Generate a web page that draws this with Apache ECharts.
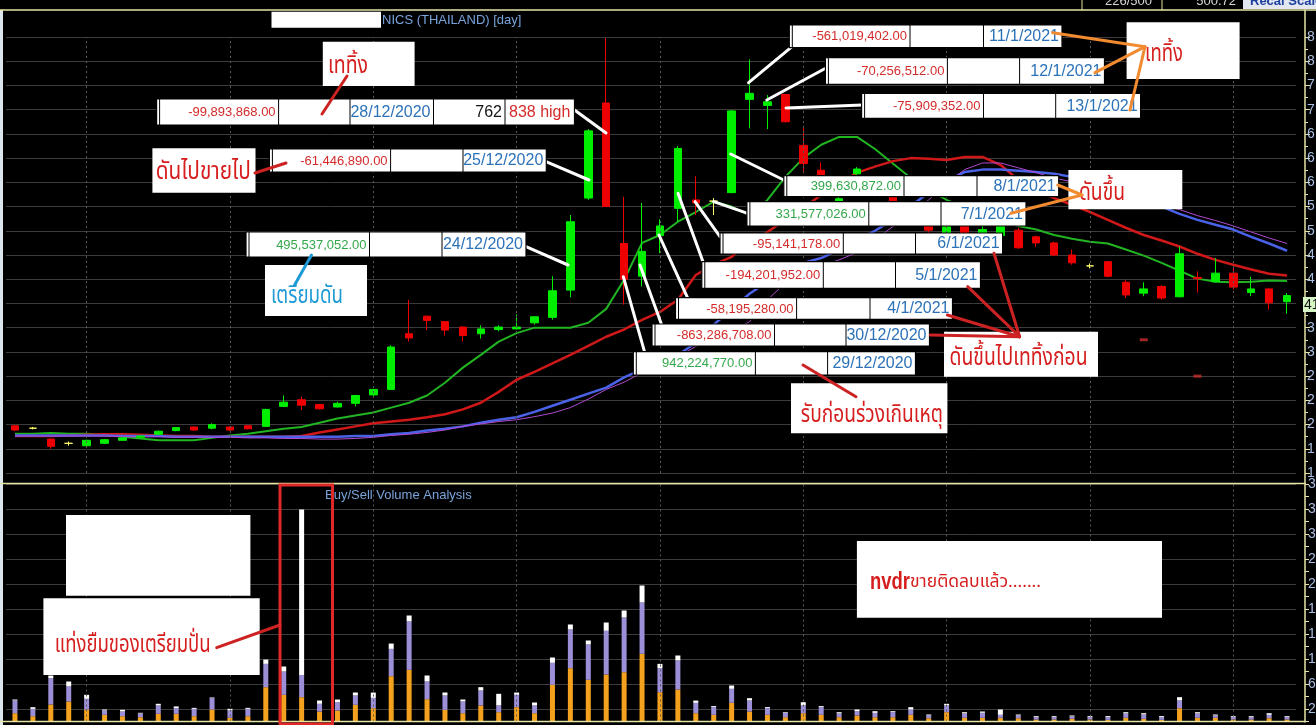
<!DOCTYPE html>
<html><head><meta charset="utf-8">
<script src="https://cdn.jsdelivr.net/npm/echarts@6/dist/echarts.min.js"></script>
<style>html,body{margin:0;padding:0;background:#000;overflow:hidden}#c{width:1316px;height:725px}</style>
</head><body><div id="c"></div><script>
// ---------------- data ----------------
const dates = ['9/11/2020','10/11/2020','11/11/2020','12/11/2020','13/11/2020','16/11/2020','17/11/2020','18/11/2020','19/11/2020','20/11/2020','23/11/2020','24/11/2020','25/11/2020','26/11/2020','27/11/2020','30/11/2020','1/12/2020','2/12/2020','3/12/2020','4/12/2020','8/12/2020','9/12/2020','11/12/2020','14/12/2020','15/12/2020','16/12/2020','17/12/2020','18/12/2020','21/12/2020','22/12/2020','23/12/2020','24/12/2020','25/12/2020','28/12/2020','29/12/2020','30/12/2020','4/1/2021','5/1/2021','6/1/2021','7/1/2021','8/1/2021','11/1/2021','12/1/2021','13/1/2021','14/1/2021','15/1/2021','18/1/2021','19/1/2021','20/1/2021','21/1/2021','22/1/2021','25/1/2021','26/1/2021','27/1/2021','28/1/2021','29/1/2021','1/2/2021','2/2/2021','3/2/2021','4/2/2021','5/2/2021','8/2/2021','9/2/2021','10/2/2021','11/2/2021','12/2/2021','15/2/2021','16/2/2021','17/2/2021','18/2/2021','19/2/2021','22/2/2021'];
const openP  = [1.98,1.94,1.76,1.69,1.65,1.69,1.74,1.79,1.84,1.90,1.96,1.94,1.96,1.98,1.97,2.30,2.41,2.33,2.29,2.35,2.49,2.58,3.50,3.79,3.70,3.61,3.50,3.57,3.58,3.68,3.77,4.22,5.74,7.31,4.99,4.45,5.12,5.57,5.71,5.69,5.83,7.37,7.27,7.45,6.61,6.20,5.55,6.14,5.95,5.77,5.35,5.40,5.10,5.30,5.15,5.12,5.21,5.10,5.00,4.80,4.62,4.69,4.35,4.17,4.28,4.11,4.43,4.36,4.50,4.18,4.24,4.03];
const closeP = [1.91,1.94,1.64,1.69,1.74,1.75,1.78,1.81,1.89,1.95,1.91,2.00,1.91,1.93,2.25,2.37,2.32,2.26,2.35,2.48,2.58,3.28,3.43,3.72,3.56,3.47,3.58,3.61,3.61,3.78,4.21,5.35,6.85,5.60,4.40,4.86,5.28,6.56,5.66,5.69,7.18,7.47,7.33,7.00,6.31,6.10,5.73,6.22,5.80,5.60,5.45,5.21,5.27,5.12,5.22,5.27,4.92,5.00,4.80,4.67,4.62,4.45,4.14,4.24,4.09,4.82,4.41,4.50,4.27,4.24,4.01,4.13];
const highP  = [1.99,1.96,1.77,1.72,1.75,1.76,1.79,1.82,1.90,1.96,1.97,2.02,1.97,1.99,2.26,2.48,2.46,2.34,2.38,2.49,2.59,3.31,4.06,3.80,3.71,3.62,3.64,3.64,3.82,3.79,4.45,5.46,6.88,8.38,5.76,5.66,5.39,6.60,6.10,5.74,7.19,8.03,7.44,7.46,6.92,6.33,5.80,6.25,6.05,5.80,5.50,5.45,5.35,5.35,5.30,5.30,5.25,5.12,5.02,4.89,4.66,4.70,4.39,4.35,4.30,4.94,4.53,4.75,4.61,4.44,4.25,4.17];
const lowP   = [1.89,1.92,1.60,1.65,1.64,1.68,1.73,1.78,1.83,1.89,1.90,1.92,1.90,1.92,1.96,2.29,2.24,2.25,2.28,2.30,2.47,2.57,3.37,3.56,3.47,3.37,3.42,3.54,3.57,3.65,3.73,4.10,5.71,5.60,3.98,4.28,4.83,5.35,5.46,5.46,5.82,6.89,6.88,6.99,6.15,5.95,5.50,6.10,5.75,5.50,5.30,5.15,5.05,5.05,5.10,5.05,4.90,4.93,4.78,4.64,4.58,4.43,4.09,4.12,4.06,4.10,4.18,4.35,4.23,4.12,3.90,3.83];
const maGreen  = [1.85,1.85,1.86,1.85,1.85,1.83,1.80,1.77,1.74,1.74,1.74,1.78,1.82,1.85,1.89,1.93,1.96,2.03,2.10,2.15,2.20,2.28,2.36,2.48,2.69,2.94,3.15,3.37,3.51,3.60,3.60,3.60,3.68,3.91,4.39,5.00,5.13,5.35,5.51,5.68,5.60,5.46,5.71,6.09,6.40,6.62,6.75,6.75,6.55,6.31,6.07,5.88,5.71,5.58,5.46,5.37,5.28,5.22,5.13,5.07,5.02,4.99,4.89,4.79,4.67,4.54,4.41,4.36,4.35,4.36,4.38,4.37];
const maRed    = [1.81,1.81,1.81,1.82,1.83,1.84,1.84,1.83,1.82,1.81,1.81,1.80,1.80,1.80,1.80,1.80,1.81,1.87,1.92,1.97,2.02,2.05,2.08,2.12,2.17,2.25,2.36,2.54,2.74,2.87,3.01,3.15,3.30,3.45,3.57,3.73,3.86,4.06,4.47,4.64,4.77,5.02,5.18,5.38,5.58,5.79,5.98,6.16,6.26,6.35,6.40,6.39,6.37,6.42,6.42,6.29,6.04,5.88,5.74,5.63,5.51,5.38,5.25,5.13,5.04,4.94,4.82,4.72,4.64,4.56,4.49,4.46];
const maBlue   = [1.82,1.82,1.82,1.82,1.82,1.82,1.81,1.81,1.81,1.80,1.80,1.80,1.80,1.80,1.80,1.80,1.80,1.80,1.80,1.81,1.81,1.84,1.86,1.90,1.93,1.97,2.03,2.08,2.12,2.21,2.31,2.41,2.51,2.61,2.78,2.91,3.04,3.15,3.35,3.65,3.90,4.16,4.36,4.56,4.67,4.75,4.89,5.05,5.20,5.38,5.61,5.83,6.02,6.17,6.21,6.21,6.19,6.17,6.14,6.09,6.01,5.91,5.81,5.71,5.60,5.48,5.38,5.30,5.22,5.10,4.99,4.87];
const maPurple = [1.81,1.81,1.81,1.81,1.81,1.81,1.80,1.80,1.80,1.79,1.79,1.79,1.79,1.78,1.78,1.77,1.77,1.76,1.76,1.77,1.79,1.82,1.84,1.87,1.91,1.97,2.01,2.05,2.08,2.13,2.19,2.28,2.42,2.58,2.70,2.86,2.99,3.12,3.29,3.43,3.53,3.70,4.06,4.34,4.52,4.62,4.72,4.84,5.05,5.27,5.48,5.71,5.98,6.21,6.32,6.32,6.24,6.16,6.07,6.01,5.94,5.88,5.79,5.71,5.63,5.55,5.45,5.37,5.28,5.18,5.08,4.99];
// volume (millions): bottom orange / middle purple / top white
const volOrange = [1.33,0.85,2.72,3.20,1.92,1.07,0.85,0.69,1.23,1.23,0.85,1.92,0.59,0.85,5.49,4.27,3.89,1.60,1.76,2.67,2.13,7.25,8.27,3.57,1.87,1.33,2.56,1.49,2.29,1.33,5.87,8.53,6.67,7.52,7.89,10.83,4.69,5.12,1.33,1.07,2.99,1.60,1.07,0.69,1.33,1.07,0.69,0.96,0.69,0.69,1.07,0.53,1.49,0.59,0.59,0.59,0.53,0.32,0.32,0.43,0.32,0.27,0.59,0.43,0.27,2.13,0.59,0.59,0.32,0.32,0.53,0.32];
const volPurple = [2.03,1.17,4.21,2.40,1.71,0.69,0.75,0.59,1.33,0.91,1.17,1.81,1.17,1.17,3.73,3.73,3.57,1.23,1.33,1.49,1.65,4.37,7.73,2.83,2.29,1.87,2.40,1.07,1.97,1.23,3.52,6.19,5.65,6.99,8.75,8.21,3.84,4.64,1.65,1.23,2.24,1.76,1.07,0.69,1.23,1.23,0.59,0.69,0.69,0.80,0.85,0.43,1.07,0.69,0.80,0.48,0.43,0.37,0.37,0.37,0.37,0.43,0.69,0.69,0.43,1.23,0.69,0.37,0.37,0.37,0.53,0.37];
const volWhite  = [0.16,0.27,0.43,0.80,0.64,0.16,0.27,0.11,0.27,0.27,0.16,0.11,0.27,0.16,0.69,0.80,26.45,0.53,0.43,0.48,0.85,0.85,0.96,0.96,0.48,0.32,0.53,1.87,0.37,0.48,0.85,0.80,0.64,1.33,1.12,2.72,0.69,0.80,0.37,0.16,0.53,0.37,0.16,0.11,0.53,0.16,0.21,0.27,0.27,0.16,0.37,0.16,0.27,0.21,0.21,0.85,0.16,0.16,0.16,0.16,0.16,0.16,0.21,0.21,0.16,0.53,0.21,0.16,0.16,0.16,0.27,0.16];
const stopDates  = ['10/2/2021','15/2/2021'];
const stopValues = [3.40, 2.80];
const gridDates  = ['13/11/2020','25/11/2020','8/12/2020','21/12/2020','4/1/2021','14/1/2021','26/1/2021','5/2/2021','17/2/2021'];
const titleText = 'NICS (THAILAND) [day]';
const volTitle = 'Buy/Sell Volume Analysis';
const lastPriceLabel = '41';

// ---------------- styles ----------------
const UP = '#00ee00', DOWN = '#ee0000', DOJI = '#ffff66';
const FRAME = '#e4e4a4', GRIDC = '#3c3c3c';
const THAI = "'Noto Sans Thai','Noto Serif Thai','Loma','Garuda','Waree','Norasi','Tlwg Typo','Laksaman',sans-serif";
const NUMF = "13px 'Liberation Sans', Arial, sans-serif";
const DATEF = "16px 'Liberation Sans', Arial, sans-serif";
const RNUM = '#d42b2b', GNUM = '#33a84a', BDATE = '#2c72b8', TRED = '#d61e1e', TBLUE = '#1e9ad6', ORANGE = '#f28b30';

const candleData = dates.map((d, i) => {
  const item = { value: [openP[i], closeP[i], lowP[i], highP[i]] };
  if (openP[i] === closeP[i]) item.itemStyle = { color: DOJI, color0: DOJI, borderColor: DOJI, borderColor0: DOJI };
  return item;
});

// ---------------- annotation graphics ----------------
const G = [];
const mctx = document.createElement('canvas').getContext('2d');
function rect(x0, y0, x1, y1, fill, stroke, lw, z) {
  G.push({ type: 'rect', z: z || 100, shape: { x: x0, y: y0, width: x1 - x0, height: y1 - y0 },
    style: { fill: fill || 'none', stroke: stroke || null, lineWidth: lw || 0 } });
}
function seg(x1, y1, x2, y2, color, w, z) {
  G.push({ type: 'line', z: z || 101, shape: { x1, y1, x2, y2 }, style: { stroke: color, lineWidth: w, lineCap: 'round' } });
}
function txt(x, y, s, color, font, align) {
  G.push({ type: 'text', z: 103, x: x, y: y,
    style: { text: s, fill: color, font: font, textAlign: align || 'left', textVerticalAlign: 'middle', align: align || 'left', verticalAlign: 'middle' } });
}
function fitText(x, y, s, color, font, targetW) {
  mctx.font = font;
  const w = mctx.measureText(s).width || targetW;
  const sx = Math.max(0.5, Math.min(1.6, targetW / w));
  G.push({ type: 'text', z: 103, x: x, y: y, scaleX: sx, originX: 0, originY: 0,
    style: { text: s, fill: color, font: font, textAlign: 'left', textVerticalAlign: 'middle', align: 'left', verticalAlign: 'middle' } });
}
function row(y0, y1, cells) {
  const x0 = cells[0][0], x1 = cells[cells.length - 1][1];
  rect(x0, y0, x1, y1, '#fff', '#000', 1.2, 102);
  seg(x0 + 3, y0, x0 + 3, y1, '#000', 1, 102);
  cells.forEach((c, k) => {
    if (k > 0) seg(c[0], y0, c[0], y1, '#000', 1, 102);
    if (c[2]) {
      const al = c[3] || 'right';
      txt(al === 'left' ? c[0] + 4 : c[1] - 3, (y0 + y1) / 2 + 0.5, c[2], c[4], c[5], al);
    }
  });
}

// frame & header
rect(0, 10, 3, 725, '#dde6ee', null, 0, 99);
seg(0, 10, 1316, 10, FRAME, 1.5, 99);
seg(0, 483.5, 1305, 483.5, FRAME, 1.5, 99);
seg(0, 721.5, 1305, 721.5, FRAME, 1.5, 99);
seg(1305, 10, 1305, 722, FRAME, 1.5, 99);
seg(1082, 0, 1082, 10, FRAME, 1, 99);
seg(1162, 0, 1162, 10, FRAME, 1, 99);
txt(1152, 1, '226/500', '#d8d8d8', "13px 'Liberation Sans', Arial", 'right');
txt(1236, 1, '500.72', '#d8d8d8', "13px 'Liberation Sans', Arial", 'right');
rect(1243, 0, 1316, 9, '#e2e7f0', null, 0, 100);
txt(1250, 1, 'Recal Scale', '#2040a0', "bold 13px 'Liberation Sans', Arial", 'left');
rect(271.5, 11.7, 381, 27.7, '#fff');
txt(382, 20, titleText, '#78a4dc', "13px 'Liberation Sans', Arial", 'left');
txt(325, 495, volTitle, '#78a4dc', "13px 'Liberation Sans', Arial", 'left');
rect(1303, 297, 1316, 312, '#d5f5c5');
txt(1304, 305, lastPriceLabel, '#111', "14px 'Liberation Sans', Arial", 'left');

// white connector lines
[[574.5,110,606,133],[546,161.7,589,180],[526,246.7,568,265],[792,46.7,748.6,82.7],[828.4,66.7,766.8,100],
 [862.4,105,786,108],[783.8,180,730.7,154],[747.7,213.3,713.7,201.7],[720,236.7,695,201.7],[703,261.7,678,193.3],
 [688.3,299.3,659,235],[661.7,325,640,265],[645,353.3,623.3,276.7]].forEach(l => seg(l[0], l[1], l[2], l[3], '#ffffff', 3, 101));

// NVDR rows
row(99, 125, [[156.6,278.6,'-99,893,868.00','right',RNUM,NUMF],[278.6,350],[350,433.5,'28/12/2020','right',BDATE,DATEF],[433.5,505,'762','right','#111',DATEF],[505,574.5,'838 high','left',RNUM,DATEF]]);
row(149, 172, [[269.4,390.6,'-61,446,890.00','right',RNUM,NUMF],[390.6,463],[463,546.3,'25/12/2020','right',BDATE,DATEF]]);
row(232, 257, [[246,369.5,'495,537,052.00','right',GNUM,NUMF],[369.5,442],[442,526,'24/12/2020','right',BDATE,DATEF]]);
row(25, 47.7, [[789.3,910,'-561,019,402.00','right',RNUM,NUMF],[910,983.5],[983.5,1062,'11/1/2021','right',BDATE,DATEF]]);
row(57.7, 84.3, [[825.4,947.4,'-70,256,512.00','right',RNUM,NUMF],[947.4,1019.6],[1019.6,1104.5,'12/1/2021','right',BDATE,DATEF]]);
row(93.3, 118.3, [[861.6,983.5,'-75,909,352.00','right',RNUM,NUMF],[983.5,1055.7],[1055.7,1140.6,'13/1/2021','right',BDATE,DATEF]]);
row(175.7, 196.7, [[783.8,904,'399,630,872.00','right',GNUM,NUMF],[904,977],[977,1058.7,'8/1/2021','right',BDATE,DATEF]]);
row(201.7, 226, [[746.9,868.8,'331,577,026.00','right',GNUM,NUMF],[868.8,941],[941,1026,'7/1/2021','right',BDATE,DATEF]]);
row(233, 254, [[720,843.3,'-95,141,178.00','right',RNUM,NUMF],[843.3,915.5],[915.5,1002.6,'6/1/2021','right',BDATE,DATEF]]);
row(261.7, 288.3, [[701.8,823.3,'-194,201,952.00','right',RNUM,NUMF],[823.3,895.5],[895.5,980.5,'5/1/2021','right',BDATE,DATEF]]);
row(297.7, 319.3, [[675.5,796.6,'-58,195,280.00','right',RNUM,NUMF],[796.6,870],[870,952.5,'4/1/2021','right',BDATE,DATEF]]);
row(324, 346, [[652,774.5,'-863,286,708.00','right',RNUM,NUMF],[774.5,846],[846,929.5,'30/12/2020','right',BDATE,DATEF]]);
row(351.7, 375, [[633.3,755.4,'942,224,770.00','right',GNUM,NUMF],[755.4,827.6],[827.6,915.5,'29/12/2020','right',BDATE,DATEF]]);

// Thai callouts
const TF = '25px ' + THAI;
rect(322.8, 41.7, 414.6, 86, '#fff'); fitText(328, 68, 'เททิ้ง', TRED, TF, 40); seg(347, 76, 322, 114, '#cc2222', 3, 104);
rect(152.4, 148.3, 255.5, 192.7, '#fff'); fitText(155.7, 174, 'ดันไปขายไป', TRED, TF, 95); seg(255, 173, 286, 163, '#cc2222', 3, 104);
rect(265, 265, 367, 316, '#fff'); fitText(271, 298, 'เตรียมดัน', TBLUE, TF, 72); seg(311.5, 255, 294.6, 285, TBLUE, 3, 104);
rect(1126.6, 22.3, 1239.6, 79, '#fff'); fitText(1145, 56, 'เททิ้ง', TRED, TF, 38);
seg(1145, 46.7, 1052.7, 32.7, ORANGE, 3, 104); seg(1145, 46.7, 1095, 72.7, ORANGE, 3, 104); seg(1145, 46.7, 1130, 110, ORANGE, 3, 104);
rect(1068.4, 170, 1182.3, 209.3, '#fff'); fitText(1079, 195, 'ดันขึ้น', TRED, TF, 46);
seg(1057.8, 185, 1082, 195, ORANGE, 3, 104); seg(1011, 213.3, 1082, 195, ORANGE, 3, 104);
rect(944, 331.7, 1098, 376.7, '#fff'); fitText(949.5, 360, 'ดันขึ้นไปเททิ้งก่อน', TRED, TF, 138);
[[994,253.3],[967.7,286.7],[947.4,315],[930.4,335]].forEach(p => seg(p[0], p[1], 1019.6, 336.7, '#cc2222', 3, 104));
rect(791, 383.3, 947.4, 433.3, '#fff'); fitText(800.8, 417, 'รับก่อนร่วงเกินเหตุ', TRED, TF, 142); seg(856, 396.7, 803, 365, '#cc2222', 3, 104);
// volume panel callouts
rect(66, 515, 250.4, 595.7, '#fff');
rect(43.4, 598.3, 259.7, 675, '#fff'); fitText(54.7, 647, 'แท่งยืมของเตรียมปั่น', TRED, TF, 156); seg(216.7, 647.7, 280, 625, '#cc2222', 3, 104);
rect(280, 485, 332.5, 724, 'none', '#e02828', 3, 104);
rect(856.9, 541, 1162, 617.7, '#fff');
fitText(870, 582, 'nvdr', TRED, "bold 24px 'Liberation Sans', Arial, sans-serif", 40);
fitText(910, 584, 'ขายติดลบแล้ว.......', TRED, '17px ' + THAI, 131);

// ---------------- chart ----------------
const GL = 6, GW = 1290;
const vMark = { symbol: ['none', 'none'], silent: true, animation: false, label: { show: false },
  lineStyle: { type: [2, 3], color: '#5a5a5a', width: 1 }, data: gridDates.map(d => ({ xAxis: d })) };
const axisCommonX = { type: 'category', data: dates, boundaryGap: true, axisLine: { show: false }, axisTick: { show: false }, axisLabel: { show: false }, splitLine: { show: false } };
const chart = echarts.init(document.getElementById('c'), null, { renderer: 'canvas', width: 1316, height: 725 });
chart.setOption({
  backgroundColor: '#000',
  animation: false,
  grid: [
    { left: GL, width: GW, top: 37, height: 436, outerBoundsMode: 'none', containLabel: false },
    { left: GL, width: GW, top: 484, height: 237.5, outerBoundsMode: 'none', containLabel: false }
  ],
  xAxis: [Object.assign({ gridIndex: 0 }, axisCommonX), Object.assign({ gridIndex: 1 }, axisCommonX)],
  yAxis: [
    { type: 'value', gridIndex: 0, position: 'right', offset: 9, min: 1.2, max: 8.4, interval: 0.4,
      axisLine: { show: false }, axisTick: { show: true, length: 5, lineStyle: { color: FRAME } },
      minorTick: { show: true, splitNumber: 2, length: 3, lineStyle: { color: FRAME } },
      axisLabel: { color: '#a9bde0', fontSize: 14, margin: 2, fontFamily: 'Liberation Sans', formatter: v => v.toFixed(2) },
      splitLine: { show: true, lineStyle: { color: GRIDC, width: 1 } } },
    { type: 'value', gridIndex: 1, position: 'right', offset: 9, min: 0, max: 38, interval: 2,
      axisLine: { show: false }, axisTick: { show: true, length: 4, lineStyle: { color: FRAME } },
      axisLabel: { color: '#a9bde0', fontSize: 14, margin: 3, fontFamily: 'Liberation Sans', formatter: v => (Math.round(v) % 4 === 2 ? v + 'M' : '') },
      splitLine: { show: true, lineStyle: { color: ['rgba(0,0,0,0)', GRIDC], width: 1 } } }
  ],
  graphic: { elements: G },
  series: [
    { name: 'MA green', type: 'line', data: maGreen, showSymbol: false, lineStyle: { color: '#22b522', width: 2 }, z: 2 },
    { name: 'MA red', type: 'line', data: maRed, showSymbol: false, lineStyle: { color: '#d01818', width: 2.5 }, z: 2 },
    { name: 'MA blue', type: 'line', data: maBlue, showSymbol: false, lineStyle: { color: '#4a62e8', width: 2.5 }, z: 2 },
    { name: 'MA purple', type: 'line', data: maPurple, showSymbol: false, lineStyle: { color: '#b04ad0', width: 1 }, z: 2 },
    { name: 'price', type: 'candlestick', data: candleData, barWidth: 8, z: 3,
      itemStyle: { color: UP, color0: DOWN, borderColor: UP, borderColor0: DOWN, borderWidth: 1 },
      markLine: vMark },
    { name: 'marks', type: 'scatter', data: stopDates.map((d, i) => [d, stopValues[i]]), symbol: 'rect', symbolSize: [8, 3],
      itemStyle: { color: '#c83030' }, z: 3 },
    { name: 'vol1', type: 'bar', xAxisIndex: 1, yAxisIndex: 1, stack: 'v', data: volOrange, barWidth: 5, itemStyle: { color: '#f4a21e' }, markLine: vMark },
    { name: 'vol2', type: 'bar', xAxisIndex: 1, yAxisIndex: 1, stack: 'v', data: volPurple, barWidth: 5, itemStyle: { color: '#9d8ed8' } },
    { name: 'vol3', type: 'bar', xAxisIndex: 1, yAxisIndex: 1, stack: 'v', data: volWhite, barWidth: 5, itemStyle: { color: '#ffffff' } }
  ]
});
</script></body></html>
